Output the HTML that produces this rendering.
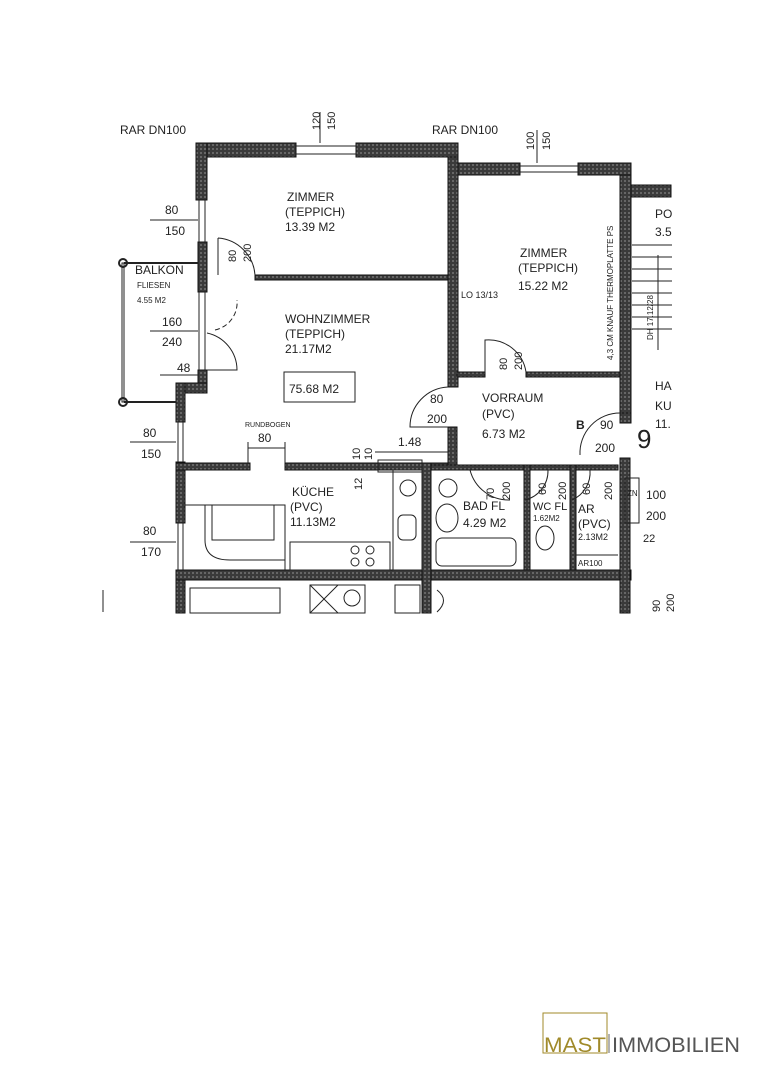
<!DOCTYPE html>
<html><head><meta charset="utf-8"><style>
html,body{margin:0;padding:0;background:#fff;}
svg{display:block;}
text{font-family:"Liberation Sans",sans-serif;fill:#222;}
</style></head><body>
<svg width="764" height="1080" viewBox="0 0 764 1080" xmlns="http://www.w3.org/2000/svg">
<defs>
<pattern id="h" width="4" height="4" patternUnits="userSpaceOnUse">
<rect width="4" height="4" fill="#3a3a3a"/><rect x="0" y="0" width="2" height="2" fill="#666"/>
</pattern>
</defs>
<g fill="url(#h)" stroke="#111" stroke-width="1">
<!-- top walls -->
<rect x="196" y="143" width="100" height="14"/>
<rect x="356" y="143" width="102" height="14"/>
<rect x="448" y="157" width="10" height="230"/>
<rect x="458" y="163" width="62" height="12"/>
<rect x="578" y="163" width="53" height="12"/>
<rect x="620" y="175" width="11" height="238"/>
<rect x="631" y="185" width="40" height="12"/>
<!-- left wall -->
<rect x="196" y="143" width="11" height="57"/>
<rect x="198" y="242" width="9" height="50"/>
<rect x="198" y="370" width="9" height="23"/>
<rect x="176" y="383" width="31" height="10"/>
<rect x="176" y="383" width="9" height="39"/>
<rect x="176" y="462" width="9" height="61"/>
<rect x="176" y="570" width="9" height="43"/>
<!-- middle -->
<rect x="448" y="427" width="9" height="43"/>
<rect x="255" y="275" width="193" height="5"/>
<rect x="457" y="372" width="28" height="5"/>
<rect x="526" y="372" width="94" height="5"/>
<!-- kitchen top -->
<rect x="176" y="463" width="74" height="7"/>
<rect x="285" y="463" width="163" height="7"/>
<!-- bottom -->
<rect x="176" y="570" width="455" height="10"/>
<rect x="422" y="463" width="9" height="150"/>
<rect x="431" y="465" width="187" height="5"/>
<rect x="524" y="465" width="6" height="105"/>
<rect x="570" y="465" width="6" height="105"/>
<rect x="620" y="458" width="10" height="155"/>
<rect x="620" y="413" width="11" height="10"/>
</g>
<g fill="none" stroke="#222" stroke-width="1">
<!-- windows -->
<line x1="296" y1="146" x2="356" y2="146"/><line x1="296" y1="154" x2="356" y2="154"/>
<line x1="520" y1="166" x2="578" y2="166"/><line x1="520" y1="172" x2="578" y2="172"/>
<line x1="199" y1="200" x2="199" y2="242"/><line x1="205" y1="200" x2="205" y2="242"/>
<line x1="199" y1="292" x2="199" y2="370"/><line x1="205" y1="292" x2="205" y2="370"/>
<line x1="178" y1="422" x2="178" y2="462"/><line x1="183" y1="422" x2="183" y2="462"/>
<line x1="178" y1="523" x2="178" y2="570"/><line x1="183" y1="523" x2="183" y2="570"/>
<!-- balcony -->
<rect x="122" y="263" width="2" height="139"/>
<line x1="124" y1="263" x2="198" y2="263" stroke-width="2"/>
<line x1="124" y1="402" x2="176" y2="402" stroke-width="2"/>
<circle cx="123" cy="263" r="4" stroke-width="2"/><circle cx="123" cy="402" r="4" stroke-width="2"/>
<!-- doors -->
<path d="M207 333 A38 38 0 0 1 237 370 L207 370"/>
<path d="M215 330 A28 28 0 0 0 237 300" stroke-dasharray="5,3"/>
<path d="M218 238 L218 275 M218 238 A40 40 0 0 1 255 275"/>
<path d="M448 387 A40 40 0 0 0 410 427 L448 427"/>
<path d="M485 372 L485 340 A38 38 0 0 1 526 372"/>
<path d="M620 413 A40 40 0 0 0 580 455"/>
<path d="M470 470 A40 40 0 0 0 510 500"/>
<path d="M548 470 A30 30 0 0 1 525 500"/>
<path d="M590 470 A30 30 0 0 1 572 500"/>
<!-- dimension lines -->
<line x1="150" y1="220" x2="198" y2="220"/>
<line x1="150" y1="331" x2="198" y2="331"/>
<line x1="130" y1="442" x2="176" y2="442"/>
<line x1="130" y1="542" x2="176" y2="542"/>
<line x1="248" y1="448" x2="285" y2="448"/>
<line x1="248" y1="442" x2="248" y2="463"/><line x1="285" y1="442" x2="285" y2="463"/>
<line x1="375" y1="452" x2="448" y2="452"/>
<line x1="320" y1="112" x2="320" y2="143"/>
<line x1="537" y1="130" x2="537" y2="163"/>
<line x1="160" y1="375" x2="198" y2="375"/>
<rect x="284" y="372" width="71" height="30"/>
<!-- kitchen furniture -->
<path d="M185 505 L285 505 L285 570 M205 505 L205 540 Q205 560 230 560 L285 560"/>
<rect x="212" y="505" width="62" height="35"/>
<rect x="290" y="542" width="100" height="28"/>
<circle cx="355" cy="550" r="4"/><circle cx="370" cy="550" r="4"/><circle cx="355" cy="562" r="4"/><circle cx="370" cy="562" r="4"/>
<rect x="393" y="470" width="29" height="100"/>
<circle cx="408" cy="488" r="8"/><rect x="398" y="515" width="18" height="25" rx="5"/>
<rect x="378" y="460" width="44" height="12"/>
<!-- bath -->
<circle cx="448" cy="488" r="9"/>
<ellipse cx="447" cy="518" rx="11" ry="14"/>
<rect x="436" y="538" width="80" height="28" rx="6"/>
<ellipse cx="545" cy="538" rx="9" ry="12"/>
<line x1="576" y1="555" x2="618" y2="555"/>
<rect x="625" y="478" width="14" height="45"/>
<!-- stairs -->
<g stroke-width="1">
<line x1="632" y1="245" x2="672" y2="245"/><line x1="632" y1="257" x2="672" y2="257"/>
<line x1="632" y1="269" x2="672" y2="269"/><line x1="632" y1="281" x2="672" y2="281"/>
<line x1="632" y1="293" x2="672" y2="293"/><line x1="632" y1="305" x2="672" y2="305"/>
<line x1="632" y1="317" x2="672" y2="317"/><line x1="632" y1="329" x2="672" y2="329"/>
<line x1="658" y1="255" x2="658" y2="350"/>
</g>
<!-- lower unit hints -->
<rect x="190" y="588" width="90" height="25"/>
<rect x="310" y="585" width="55" height="28"/>
<line x1="310" y1="585" x2="338" y2="613"/><line x1="338" y1="585" x2="310" y2="613"/>
<circle cx="352" cy="598" r="8"/>
<rect x="395" y="585" width="25" height="28"/>
<path d="M437 590 Q450 600 437 612"/>
<line x1="103" y1="590" x2="103" y2="612"/>
</g>
<!-- labels -->
<g font-size="12">
<text x="120" y="134">RAR DN100</text>
<text x="432" y="134">RAR DN100</text>
<text x="165" y="214">80</text><text x="165" y="235">150</text>
<text x="135" y="274">BALKON</text>
<text x="137" y="288" font-size="8">FLIESEN</text>
<text x="137" y="303" font-size="8">4.55 M2</text>
<text x="162" y="326">160</text><text x="162" y="346">240</text>
<text x="177" y="372">48</text>
<text x="287" y="201">ZIMMER</text><text x="285" y="216">(TEPPICH)</text><text x="285" y="231">13.39  M2</text>
<text x="285" y="323">WOHNZIMMER</text><text x="285" y="338">(TEPPICH)</text><text x="285" y="353">21.17M2</text>
<text x="289" y="393">75.68  M2</text>
<text x="520" y="257">ZIMMER</text><text x="518" y="272">(TEPPICH)</text><text x="518" y="290">15.22  M2</text>
<text x="461" y="298" font-size="9">LO 13/13</text>
<text x="482" y="402">VORRAUM</text><text x="482" y="418">(PVC)</text><text x="482" y="438">6.73  M2</text>
<text x="430" y="403">80</text><text x="427" y="423">200</text>
<text x="576" y="429" font-weight="bold">B</text>
<text x="600" y="429">90</text><text x="595" y="452">200</text>
<text x="637" y="448" font-size="26">9</text>
<text x="655" y="218">PO</text><text x="655" y="236">3.5</text>
<text x="655" y="390">HA</text><text x="655" y="410">KU</text><text x="655" y="428">11.</text>
<text x="245" y="427" font-size="7">RUNDBOGEN</text>
<text x="258" y="442">80</text>
<text x="398" y="446">1.48</text>
<text x="143" y="437">80</text><text x="141" y="458">150</text>
<text x="143" y="535">80</text><text x="141" y="556">170</text>
<text x="292" y="496">KÜCHE</text><text x="290" y="511">(PVC)</text><text x="290" y="526">11.13M2</text>
<text x="463" y="510">BAD FL</text><text x="463" y="527">4.29  M2</text>
<text x="533" y="510" font-size="11">WC FL</text><text x="533" y="521" font-size="8">1.62M2</text>
<text x="578" y="513">AR</text><text x="578" y="528">(PVC)</text><text x="578" y="540" font-size="9">2.13M2</text>
<text x="578" y="566" font-size="8">AR100</text>
<text x="627" y="496" font-size="8">ZN</text>
<text x="646" y="499">100</text><text x="646" y="520">200</text>
<text x="643" y="542" font-size="11">22</text>
<g font-size="11">
<text transform="translate(320,130) rotate(-90)">120</text>
<text transform="translate(335,130) rotate(-90)">150</text>
<text transform="translate(534,150) rotate(-90)">100</text>
<text transform="translate(550,150) rotate(-90)">150</text>
<text transform="translate(236,262) rotate(-90)">80</text>
<text transform="translate(251,262) rotate(-90)">200</text>
<text transform="translate(507,370) rotate(-90)">80</text>
<text transform="translate(522,370) rotate(-90)">200</text>
<text transform="translate(494,500) rotate(-90)">70</text>
<text transform="translate(510,500) rotate(-90)">200</text>
<text transform="translate(546,495) rotate(-90)">60</text>
<text transform="translate(566,500) rotate(-90)">200</text>
<text transform="translate(590,495) rotate(-90)">60</text>
<text transform="translate(612,500) rotate(-90)">200</text>
<text transform="translate(360,460) rotate(-90)">10</text>
<text transform="translate(372,460) rotate(-90)">10</text>
<text transform="translate(362,490) rotate(-90)">12</text>
<text transform="translate(660,612) rotate(-90)">90</text>
<text transform="translate(674,612) rotate(-90)">200</text>
</g>
<text transform="translate(613,360) rotate(-90)" font-size="8">4,3 CM KNAUF THERMOPLATTE PS</text>
<text transform="translate(653,340) rotate(-90)" font-size="8">DH 17.12/28</text>
</g>
<!-- logo -->
<rect x="543" y="1013" width="64" height="40" fill="none" stroke="#a08a2a" stroke-width="1"/>
<text x="544" y="1052" font-size="21" style="fill:#a08a2a" textLength="62" lengthAdjust="spacingAndGlyphs">MAST</text>
<line x1="609" y1="1034" x2="609" y2="1053" stroke="#666" stroke-width="1"/>
<text x="612" y="1052" font-size="21" style="fill:#555" textLength="128" lengthAdjust="spacingAndGlyphs">IMMOBILIEN</text>
</svg>
</body></html>
